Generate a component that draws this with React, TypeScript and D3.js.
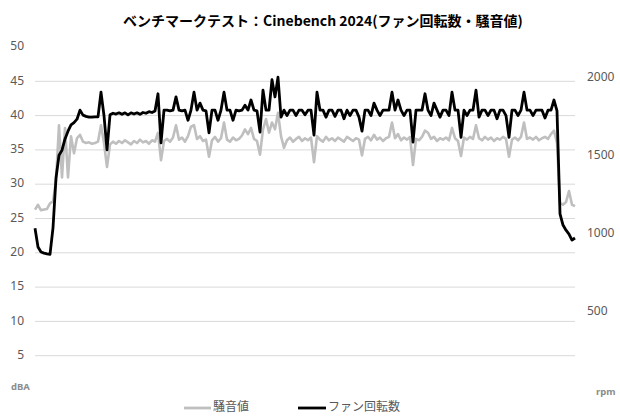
import React from "react";
import * as d3 from "d3";

const title = "ベンチマークテスト：Cinebench 2024(ファン回転数・騒音値)";
const noiseName = "騒音値";
const fanName = "ファン回転数";
const leftTicks = [5, 10, 15, 20, 25, 30, 35, 40, 45, 50];
const rightTicks = [500, 1000, 1500, 2000];

const noise = [
  26.3, 27.0, 26.2, 26.3, 26.4, 27.2,
  27.5, 30.5, 38.6, 31.0, 38.2, 31.0, 37.0, 34.5,
  36.7, 37.2, 36.2, 36.0, 36.1, 35.9, 36.0, 36.2,
  38.6, 36.0, 32.5, 35.8,
  36.2, 35.9, 36.3, 36.0, 36.4, 36.1, 35.8, 36.3, 36.0, 36.5, 36.1, 36.3, 35.9, 36.4, 36.2,
  37.5, 33.5, 36.3,
  36.6, 36.2, 36.8,
  38.6,
  36.5, 36.8, 36.2, 37.0,
  38.4, 38.6,
  36.6,
  37.0,
  36.3, 36.5,
  34.0,
  36.4, 36.9, 36.2, 36.7,
  39.0,
  36.5, 36.2, 36.8, 36.4, 36.6, 37.1,
  38.0, 37.3, 38.2,
  36.6, 36.3,
  34.3,
  38.0, 39.5, 37.5, 39.0, 38.0, 40.4, 37.0, 35.3,
  36.4, 36.8, 36.2, 36.6, 36.9, 36.3, 36.7, 36.4, 36.8,
  33.2,
  37.0,
  36.5, 36.2, 36.9, 36.4, 36.7, 36.3, 36.8, 36.5, 36.2, 36.9, 36.6, 36.3, 36.7, 36.5,
  34.2,
  36.6, 36.9, 36.4, 37.2, 36.5, 36.8, 36.3, 36.7, 36.9,
  39.0,
  36.7, 37.3, 36.4, 36.8, 36.5, 36.9,
  32.8,
  36.6, 36.4, 36.9,
  37.8, 37.5,
  36.6, 36.9, 36.3, 36.7, 36.5, 36.8, 36.4,
  38.2,
  36.7, 36.3,
  34.1,
  36.8, 36.5, 36.9, 36.6,
  38.6,
  36.7, 36.4, 36.9, 36.5, 36.8, 36.3, 36.7, 36.5, 36.9, 36.6,
  34.0,
  36.5, 36.8, 36.4, 36.9,
  39.0,
  36.6, 36.8, 36.5, 36.9, 36.4, 36.7, 36.9, 36.6,
  37.3, 37.8,
  36.0,
  27.3, 27.0, 27.4, 29.0, 27.0, 26.8,
];

const fan = [
  1038, 917, 885, 878, 873, 870,
  1040, 1360, 1506, 1538, 1610, 1660, 1700, 1715, 1737,
  1795, 1763, 1755, 1750, 1750, 1752, 1752,
  1910, 1760, 1540, 1765,
  1775, 1770, 1778, 1768, 1778, 1765, 1778, 1770, 1778, 1768, 1780, 1775, 1785, 1780, 1790,
  1900, 1585, 1795,
  1795, 1790, 1795,
  1880,
  1795, 1790, 1795,
  1730,
  1795,
  1910,
  1795,
  1840,
  1795, 1790,
  1650,
  1795, 1795,
  1730,
  1795,
  1910,
  1795, 1795,
  1730,
  1795, 1790, 1795,
  1827,
  1795,
  1860,
  1795, 1790,
  1654,
  1923,
  1795, 1795,
  1990, 1880, 2006, 1750,
  1795, 1760, 1795, 1795, 1760, 1795, 1795, 1765, 1795, 1795,
  1635,
  1910,
  1795, 1795, 1750, 1795, 1795, 1755, 1795, 1795, 1740, 1795, 1760, 1795, 1795, 1750,
  1660,
  1795, 1795, 1760,
  1840,
  1795, 1760, 1795, 1795, 1795,
  1910,
  1795,
  1860,
  1795, 1760, 1795, 1795,
  1590,
  1795, 1795, 1795,
  1900,
  1795, 1760,
  1840,
  1795, 1750, 1795, 1795, 1760,
  1910,
  1795, 1795,
  1620,
  1795, 1760, 1795, 1795,
  1923,
  1750,
  1795, 1795, 1760, 1795, 1795,
  1740,
  1795, 1795, 1760,
  1620,
  1795, 1795, 1760, 1795,
  1910,
  1795, 1795, 1760, 1795, 1795, 1795, 1745,
  1795, 1795,
  1860,
  1790,
  1130, 1058, 1025, 1000, 962, 975,
];

const W = 620;
const H = 420;
const PL = 35;
const PR = 575;
const PT = 47;
const PB = 390;

export default function App() {
  const x = d3.scaleLinear().domain([0, noise.length - 1]).range([PL, PR]);
  const xf = d3.scaleLinear().domain([0, fan.length - 1]).range([PL, PR]);
  const yL = d3.scaleLinear().domain([0, 50]).range([PB, PT]);
  const yR = d3.scaleLinear().domain([0, 2200]).range([PB, PT]);

  const noiseLine = d3
    .line<number>()
    .x((_, i) => x(i))
    .y((d) => yL(d));
  const fanLine = d3
    .line<number>()
    .x((_, i) => xf(i))
    .y((d) => yR(d));

  const font = "'Noto Sans', 'Noto Sans CJK JP', sans-serif";
  const jfont = "'Noto Sans CJK JP', 'Noto Sans', sans-serif";

  return (
    <svg
      width={W}
      height={H}
      style={{ position: "absolute", left: 0, top: 0, background: "#fff" }}
    >
      <rect x={0} y={0} width={W} height={H} fill="#fff" />
      <text
        x={323}
        y={22}
        textAnchor="middle"
        dominantBaseline="middle"
        fontFamily={jfont}
        fontWeight="bold"
        fontSize={14}
        fill="#000"
      >
        {title}
      </text>
      {leftTicks
        .filter((t) => t < 50)
        .map((t) => (
          <line
            key={"g" + t}
            x1={PL}
            x2={PR}
            y1={yL(t)}
            y2={yL(t)}
            stroke="#d9d9d9"
            strokeWidth={1}
          />
        ))}
      {leftTicks.map((t) => (
        <text
          key={"l" + t}
          x={24}
          y={yL(t)}
          textAnchor="end"
          dominantBaseline="middle"
          fontFamily={font}
          fontSize={12}
          fill="#595959"
        >
          {t}
        </text>
      ))}
      {rightTicks.map((t) => (
        <text
          key={"r" + t}
          x={587}
          y={yR(t)}
          textAnchor="start"
          dominantBaseline="middle"
          fontFamily={font}
          fontSize={12}
          fill="#595959"
        >
          {t}
        </text>
      ))}
      <text x={11} y={387} dominantBaseline="middle" fontFamily={font} fontSize={9.5} fontWeight="bold" fill="#8c8c8c">
        dBA
      </text>
      <text x={596} y={392} dominantBaseline="middle" fontFamily={font} fontSize={9.5} fontWeight="bold" fill="#8c8c8c">
        rpm
      </text>
      <path
        d={noiseLine(noise) || ""}
        fill="none"
        stroke="#bfbfbf"
        strokeWidth={2.6}
        strokeLinejoin="round"
      />
      <path
        d={fanLine(fan) || ""}
        fill="none"
        stroke="#000"
        strokeWidth={2.8}
        strokeLinejoin="round"
      />
      <line x1={184} x2={211} y1={408} y2={408} stroke="#bfbfbf" strokeWidth={2.8} />
      <text x={213} y={408} dominantBaseline="middle" fontFamily={jfont} fontSize={12} fill="#595959">
        {noiseName}
      </text>
      <line x1={298} x2={326} y1={408} y2={408} stroke="#000" strokeWidth={2.8} />
      <text x={328} y={408} dominantBaseline="middle" fontFamily={jfont} fontSize={12} fill="#595959">
        {fanName}
      </text>
    </svg>
  );
}
